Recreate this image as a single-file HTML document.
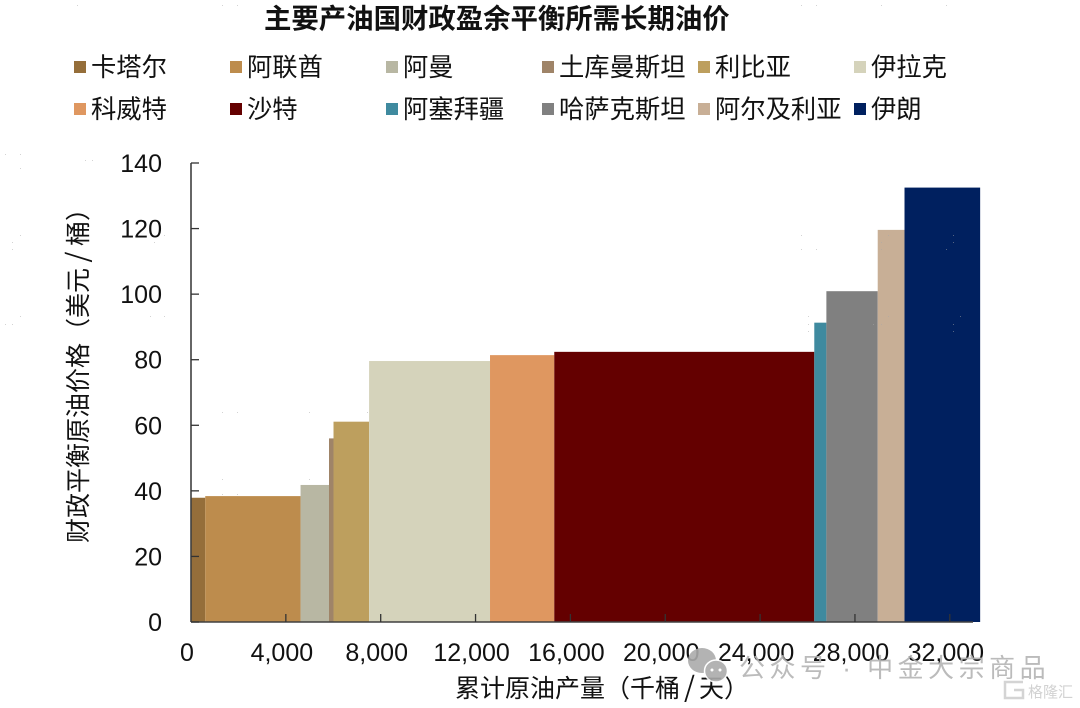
<!DOCTYPE html>
<html lang="zh">
<head>
<meta charset="utf-8">
<title>主要产油国财政盈余平衡所需长期油价</title>
<style>
html,body{margin:0;padding:0;background:#fff;}
#chart{display:block;width:1080px;height:708px;}
text{font-family:"Liberation Sans","Noto Sans CJK SC",sans-serif;fill:#111;}
.slash{font-family:"Noto Sans CJK SC",sans-serif;font-size:28px;}
</style>
</head>
<body>
<svg id="chart" xmlns="http://www.w3.org/2000/svg" width="1080" height="708" viewBox="0 0 1080 708">
  <text x="264" y="28" font-size="27.4" font-weight="700">主要产油国财政盈余平衡所需长期油价</text>
  <g id="legend"></g>
  <g id="bars"></g>
  <g id="axes"></g>
  <text x="455" y="697" font-size="25">累计原油产量（千桶<tspan dx="4" class="slash">/</tspan><tspan dx="4">天）</tspan></text>
  <text transform="translate(87,543) rotate(-90)" x="0" y="0" font-size="25">财政平衡原油价格（美元<tspan dx="5.5" class="slash">/</tspan><tspan dx="5.5">桶）</tspan></text>
  <path d="M77 5h1v1h-1zM222 5h1v1h-1zM237 5h1v1h-1zM801 5h1v1h-1zM816 5h1v1h-1zM881 5h1v1h-1zM946 5h1v1h-1zM222 412h1v1h-1zM237 412h1v1h-1zM309 412h1v1h-1zM367 412h1v1h-1zM222 479h1v1h-1zM309 479h1v1h-1zM222 494h1v1h-1zM237 494h1v1h-1zM801 235h1v1h-1zM801 249h1v1h-1zM816 249h1v1h-1zM808 316h1v1h-1zM808 324h1v1h-1zM808 331h1v1h-1zM953 235h1v1h-1zM953 242h1v1h-1zM946 249h1v1h-1zM960 316h1v1h-1zM953 324h1v1h-1zM953 331h1v1h-1zM888 235h1v1h-1zM881 242h1v1h-1zM881 249h1v1h-1zM888 316h1v1h-1zM881 324h1v1h-1zM873 324h1v1h-1zM5 154h1v1h-1zM20 154h1v1h-1zM20 168h1v1h-1zM85 160h1v1h-1zM92 160h1v1h-1zM20 235h1v1h-1zM12 242h1v1h-1zM12 249h1v1h-1zM154 242h1v1h-1zM164 235h1v1h-1zM20 316h1v1h-1zM5 324h1v1h-1zM12 324h1v1h-1zM150 316h1v1h-1zM164 316h1v1h-1z" fill="#a8a8a8" opacity="0.5"/>
  <g opacity="0.9">
    <ellipse cx="702" cy="660.5" rx="14" ry="12.5" fill="#ababab"/>
    <ellipse cx="716" cy="671" rx="11.5" ry="11" fill="#ababab" stroke="#fff" stroke-width="1.5"/>
    <circle cx="712" cy="670" r="1.5" fill="#fff"/>
    <circle cx="720" cy="670" r="1.5" fill="#fff"/>
    <text x="739" y="677" font-size="26" letter-spacing="4.5" style="fill:#b4b4b4">公众号 · 中金大宗商品</text>
  </g>
  <g>
    <path d="M1023 682h-18v16h18v-8h-9" fill="none" stroke="#d4d4d4" stroke-width="2.5"/>
    <text x="1028" y="697" font-size="15" style="fill:#d2d2d2">格隆汇</text>
  </g>
</svg>
<script>
var categories = ["卡塔尔","阿联酋","阿曼","土库曼斯坦","利比亚","伊拉克","科威特","沙特","阿塞拜疆","哈萨克斯坦","阿尔及利亚","伊朗"];
var production = [600,4020,1200,190,1500,5100,2710,10965,510,2165,1130,3190];
var breakeven = [37.9,38.4,41.8,56,61.1,79.6,81.4,82.4,91.3,100.9,119.6,132.5];
var seriesColors = ["#956E3A","#BD8C4D","#B8B7A3","#9F8468","#BD9F5E","#D5D3BB","#DF9760","#640000","#3F8A9F","#808080","#C8AF96","#00205F"];
var xTickValues = [0,4000,8000,12000,16000,20000,24000,28000,32000];
var xTickLabels = ["0","4,000","8,000","12,000","16,000","20,000","24,000","28,000","32,000"];
var yTickValues = [0,20,40,60,80,100,120,140];
var yTickLabels = ["0","20","40","60","80","100","120","140"];

var NS = "http://www.w3.org/2000/svg";
function xScale(v){ return 191 + v * (949.8 - 191) / 32000; }
function yScale(v){ return 622 - v * (622 - 163) / 140; }
function make(tag, attrs, parent){
  var el = document.createElementNS(NS, tag);
  for (var k in attrs) el.setAttribute(k, attrs[k]);
  parent.appendChild(el);
  return el;
}

var barsGroup = document.getElementById("bars");
var cumulative = 0;
categories.forEach(function(name, i){
  var x0 = xScale(cumulative);
  cumulative += production[i];
  var x1 = xScale(cumulative);
  var top = yScale(breakeven[i]);
  var bar = make("rect", {x:x0, y:top, width:x1 - x0, height:yScale(0) - top, fill:seriesColors[i]}, barsGroup);
  
  
});

var axes = document.getElementById("axes");
var yAxis = make("line", {x1:xScale(0), x2:xScale(0), y1:yScale(140), y2:yScale(0), stroke:"#404040", "stroke-width":1.6}, axes);


var xAxis = make("line", {x1:xScale(0), x2:xScale(33000) - 0.5, y1:yScale(0), y2:yScale(0), stroke:"#404040", "stroke-width":1.6}, axes);



yTickValues.forEach(function(v, i){
  var y = yScale(v);
  var tick = make("line", {x1:xScale(0), x2:xScale(0) + 8, y1:y, y2:y, stroke:"#333", "stroke-width":1.3}, axes);
  
  
  var label = make("text", {x:162, y:y + 9, "font-size":25, "text-anchor":"end"}, axes);
  label.textContent = yTickLabels[i];
  
  
});

xTickValues.forEach(function(v, i){
  var x = xScale(v);
  if (v > 0) {
    var tick = make("line", {x1:x, x2:x, y1:yScale(0), y2:yScale(0) - 8, stroke:"#333", "stroke-width":1.3}, axes);
    
    
  }
  var label = make("text", {x:x - 4, y:661, "font-size":25, "text-anchor":"middle"}, axes);
  label.textContent = xTickLabels[i];
  
  
});

var legend = document.getElementById("legend");
categories.forEach(function(name, i){
  var col = i % 6, row = Math.floor(i / 6);
  var lx = 74 + col * 156;
  var ly = 61 + row * 42;
  var entry = make("g", {}, legend);
  
  
  var swatch = make("rect", {x:lx, y:ly, width:12, height:12, fill:seriesColors[i]}, entry);
  
  
  var text = make("text", {x:lx + 17, y:ly + 15, "font-size":25.3}, entry);
  text.textContent = name;
  
  
});
</script>
</body>
</html>
